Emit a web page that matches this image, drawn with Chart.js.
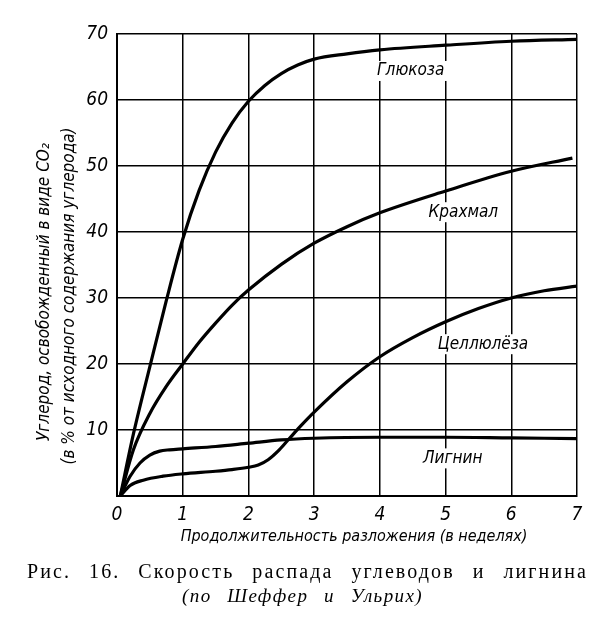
<!DOCTYPE html>
<html>
<head>
<meta charset="utf-8">
<script src="https://cdn.jsdelivr.net/npm/chart.js@4"></script>
<style>
  html, body { margin: 0; padding: 0; background: #fff; }
  #wrap { width: 600px; height: 624px; }
</style>
</head>
<body>
<div id="wrap"><canvas id="myChart" width="600" height="624"></canvas></div>
<script>
// weeks of decomposition and carbon released as CO2 (% of initial carbon)
const glucoseWeeks = [0.05, 0.25, 0.5, 0.75, 1, 1.25, 1.5, 1.75, 2, 2.25, 2.5, 2.75, 3, 3.5, 4, 5, 6, 7];
const glucoseVals  = [0, 9.4, 19.6, 29.6, 38.9, 46.3, 52.1, 56.5, 59.8, 62.2, 64, 65.3, 66.2, 67, 67.6, 68.3, 68.9, 69.2];

const starchWeeks = [0.05, 0.25, 0.5, 0.75, 1, 1.25, 1.5, 1.75, 2, 2.5, 3, 3.5, 4, 5, 6, 6.93];
const starchVals  = [0, 7, 12.5, 16.6, 20, 23.3, 26.2, 28.9, 31.2, 35.1, 38.3, 40.8, 42.9, 46.2, 49.2, 51.2];

const celluloseWeeks = [0.05, 0.2, 0.4, 0.7, 1, 1.5, 1.75, 2, 2.15, 2.3, 2.45, 2.6, 2.8, 3, 3.5, 4, 4.5, 5, 5.5, 6, 6.5, 7];
const celluloseVals  = [0, 1.6, 2.4, 3.0, 3.35, 3.75, 4.0, 4.35, 4.7, 5.5, 6.8, 8.45, 10.65, 12.7, 17.3, 21.1, 24, 26.4, 28.4, 30, 31.1, 31.8];

const ligninWeeks = [0.05, 0.2, 0.35, 0.5, 0.65, 0.8, 1, 1.5, 2, 2.5, 3, 4, 5, 6, 7];
const ligninVals  = [0, 3.0, 5.0, 6.2, 6.8, 7.0, 7.15, 7.5, 8, 8.5, 8.75, 8.9, 8.9, 8.8, 8.7];

const xTicks = [0, 1, 2, 3, 4, 5, 6, 7];
const yTicks = [0, 10, 20, 30, 40, 50, 60, 70];

// curve names and where they sit on the plot (in data units)
const seriesNames = ['Глюкоза', 'Крахмал', 'Целлюлёза', 'Лигнин'];
const nameX = [4.47, 5.27, 5.57, 5.11];
const nameY = [64.4, 43, 23, 5.7];

const xTitle = 'Продолжительность разложения (в неделях)';
const yTitle1 = 'Углерод, освобожденный в виде CO₂';
const yTitle2 = '(в % от исходного содержания углерода)';
const caption1 = 'Рис. 16. Скорость распада углеводов и лигнина';
const caption2 = '(по Шеффер и Ульрих)';

const narrow = '"Liberation Sans Narrow", "DejaVu Sans Condensed", sans-serif';
const serif = '"Liberation Serif", "DejaVu Serif", serif';

function pts(xs, ys) {
  return xs.map(function(x, i) { return { x: x, y: ys[i] }; });
}

function curve(label, xs, ys) {
  return {
    label: label,
    data: pts(xs, ys),
    borderColor: '#000',
    borderWidth: 3.2,
    pointRadius: 0,
    fill: false,
    cubicInterpolationMode: 'monotone'
  };
}

// left-aligned text with letter spacing, word gaps stretched to reach the width
function spreadText(ctx, text, x, y, width, spacing) {
  ctx.letterSpacing = spacing + 'px';
  ctx.wordSpacing = '0px';
  const w = ctx.measureText(text).width;
  const gaps = text.split(' ').length - 1;
  ctx.wordSpacing = Math.max(0, (width - w) / gaps) + 'px';
  ctx.textAlign = 'left';
  ctx.fillText(text, x, y);
  ctx.letterSpacing = '0px';
  ctx.wordSpacing = '0px';
}

const textPlugin = {
  id: 'textPlugin',
  afterDraw: function(chart) {
    const ctx = chart.ctx;
    const xs = chart.scales.x, ys = chart.scales.y;
    ctx.save();
    ctx.fillStyle = '#000';
    ctx.textAlign = 'center';
    ctx.textBaseline = 'middle';

    // curve names
    ctx.font = 'italic 17px ' + narrow;
    seriesNames.forEach(function(n, i) {
      const px = xs.getPixelForValue(nameX[i]);
      const py = ys.getPixelForValue(nameY[i]);
      const w = ctx.measureText(n).width;
      ctx.fillStyle = '#fff';
      ctx.fillRect(px - w / 2 - 3, py - 10, w + 6, 20);
      ctx.fillStyle = '#000';
      ctx.fillText(n, px, py);
    });

    // x title
    ctx.font = 'italic 16px ' + narrow;
    ctx.fillText(xTitle, 354, 537);

    // y title, two rotated lines
    ctx.font = 'italic 17px ' + narrow;
    ctx.save();
    ctx.translate(45, 292);
    ctx.rotate(-Math.PI / 2);
    ctx.fillText(yTitle1, 0, 0);
    ctx.restore();
    ctx.save();
    ctx.translate(70, 296);
    ctx.rotate(-Math.PI / 2);
    ctx.fillText(yTitle2, 0, 0);
    ctx.restore();

    // caption
    ctx.textBaseline = 'alphabetic';
    ctx.font = '20px ' + serif;
    spreadText(ctx, caption1, 27, 578, 561, 2.1);
    ctx.font = 'italic 19px ' + serif;
    spreadText(ctx, caption2, 182, 602, 241, 1.4);
    ctx.restore();
  }
};

const ctx = document.getElementById('myChart').getContext('2d');
new Chart(ctx, {
  type: 'line',
  data: {
    datasets: [
      curve(seriesNames[0], glucoseWeeks, glucoseVals),
      curve(seriesNames[1], starchWeeks, starchVals),
      curve(seriesNames[2], celluloseWeeks, celluloseVals),
      curve(seriesNames[3], ligninWeeks, ligninVals)
    ]
  },
  options: {
    responsive: false,
    animation: false,
    layout: { padding: { left: 0, right: 23, top: 34, bottom: 98 } },
    plugins: {
      legend: { display: false },
      tooltip: { enabled: false }
    },
    scales: {
      x: {
        type: 'linear',
        min: 0,
        max: 7,
        afterFit: function(scale) { scale.height = 30; },
        afterBuildTicks: function(scale) { scale.ticks = xTicks.map(function(v) { return { value: v }; }); },
        grid: { color: '#000', lineWidth: 1.5, drawTicks: false },
        border: { color: '#000', width: 2 },
        ticks: {
          color: '#000',
          padding: 8,
          font: { family: narrow, style: 'italic', size: 19 }
        }
      },
      y: {
        min: 0,
        max: 70,
        afterFit: function(scale) { scale.width = 117; },
        afterBuildTicks: function(scale) { scale.ticks = yTicks.map(function(v) { return { value: v }; }); },
        grid: { color: '#000', lineWidth: 1.5, drawTicks: false },
        border: { color: '#000', width: 2 },
        ticks: {
          color: '#000',
          padding: 9,
          font: { family: narrow, style: 'italic', size: 19 },
          callback: function(v) { return v === 0 ? '' : v; }
        }
      }
    }
  },
  plugins: [textPlugin]
});
</script>
</body>
</html>
